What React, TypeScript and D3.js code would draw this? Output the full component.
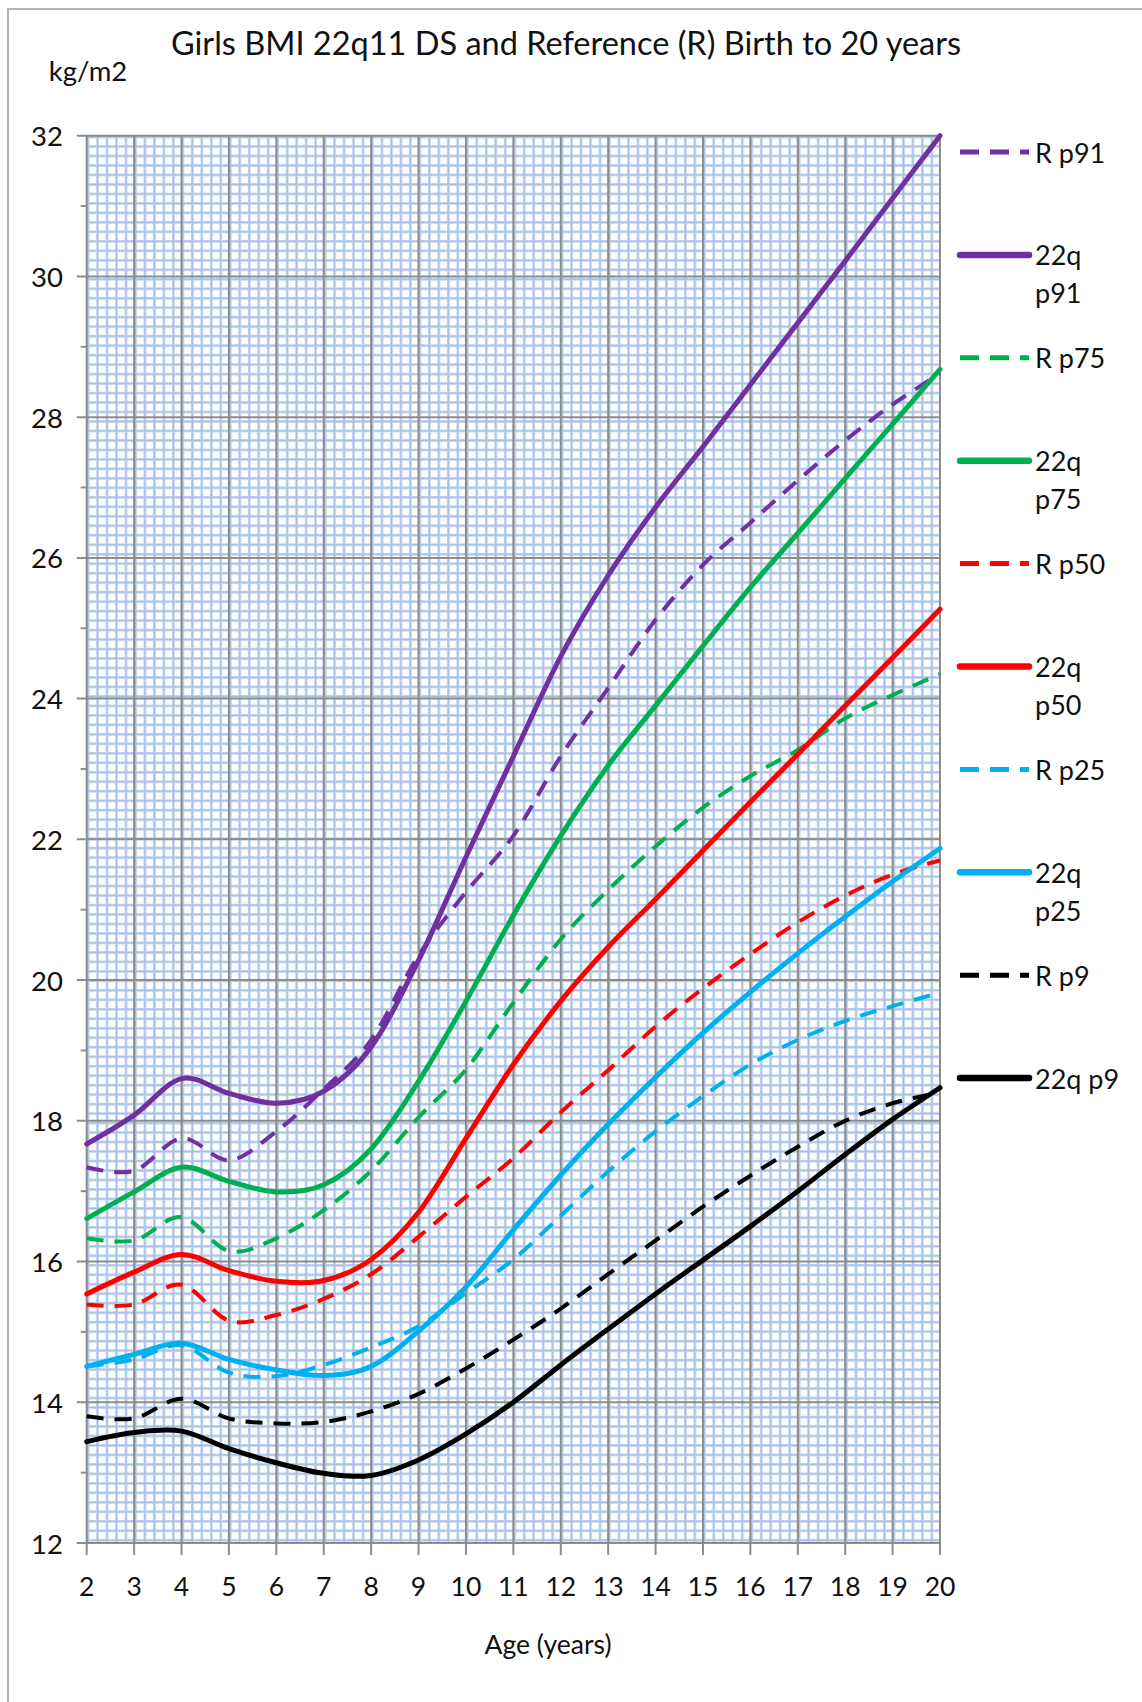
import React from 'react';
import * as d3 from 'd3';

// ---------- data ----------
const ages = [2, 3, 4, 5, 6, 7, 8, 9, 10, 11, 12, 13, 14, 15, 16, 17, 18, 19, 20];

const rP91 = [17.34, 17.29, 17.75, 17.44, 17.85, 18.45, 19.15, 20.35, 21.25, 22.05, 23.18, 24.15, 25.12, 25.9, 26.5, 27.1, 27.67, 28.18, 28.62];
const q22P91 = [17.67, 18.08, 18.6, 18.39, 18.25, 18.42, 19.05, 20.28, 21.75, 23.18, 24.6, 25.75, 26.72, 27.58, 28.46, 29.34, 30.22, 31.11, 32.0];
const rP75 = [16.33, 16.3, 16.63, 16.15, 16.33, 16.73, 17.29, 18.05, 18.73, 19.68, 20.58, 21.28, 21.9, 22.45, 22.9, 23.27, 23.72, 24.05, 24.35];
const q22P75 = [16.61, 16.99, 17.34, 17.14, 16.99, 17.09, 17.6, 18.56, 19.7, 20.92, 22.05, 23.05, 23.9, 24.75, 25.58, 26.35, 27.13, 27.9, 28.68];
const rP50 = [15.39, 15.39, 15.67, 15.16, 15.24, 15.47, 15.82, 16.35, 16.92, 17.47, 18.12, 18.72, 19.34, 19.88, 20.37, 20.82, 21.2, 21.5, 21.7];
const q22P50 = [15.54, 15.85, 16.1, 15.87, 15.72, 15.73, 16.03, 16.7, 17.75, 18.8, 19.7, 20.47, 21.15, 21.84, 22.53, 23.21, 23.9, 24.58, 25.27];
const rP25 = [14.51, 14.61, 14.81, 14.42, 14.37, 14.53, 14.78, 15.08, 15.55, 16.03, 16.65, 17.28, 17.85, 18.35, 18.8, 19.15, 19.42, 19.63, 19.82];
const q22P25 = [14.51, 14.68, 14.84, 14.61, 14.46, 14.38, 14.51, 15.01, 15.64, 16.45, 17.23, 17.95, 18.62, 19.25, 19.83, 20.38, 20.9, 21.4, 21.87];
const rP9 = [13.8, 13.77, 14.05, 13.77, 13.7, 13.72, 13.87, 14.12, 14.48, 14.89, 15.33, 15.82, 16.3, 16.78, 17.22, 17.63, 18.0, 18.25, 18.4];
const q22P9 = [13.44, 13.57, 13.59, 13.34, 13.14, 12.99, 12.96, 13.18, 13.55, 14.0, 14.53, 15.04, 15.54, 16.02, 16.5, 17.0, 17.52, 18.02, 18.47];

const seriesLabels = [['R p91'], ['22q', 'p91'], ['R p75'], ['22q', 'p75'], ['R p50'], ['22q', 'p50'], ['R p25'], ['22q', 'p25'], ['R p9'], ['22q p9']];
const yTickValues = [12, 14, 16, 18, 20, 22, 24, 26, 28, 30, 32];
const yMinorTickValues = [13, 15, 17, 19, 21, 23, 25, 27, 29, 31];
const xTickValues = ages;

const titleText = 'Girls BMI 22q11 DS and Reference (R) Birth to 20 years';
const yUnitText = 'kg/m2';
const xAxisText = 'Age (years)';

// ---------- styles ----------
const PURPLE = '#7030a0';
const GREEN = '#00b050';
const RED = '#ff0000';
const CYAN = '#00b0f0';
const BLACK = '#000000';
const FONT = 'Lato, "Open Sans", sans-serif';

export default function App() {
  const W = 1142;
  const H = 1702;
  const left = 86.7;
  const right = 940;
  const top = 135.7;
  const bottom = 1543;

  const x = d3.scaleLinear().domain([2, 20]).range([left, right]);
  const y = d3.scaleLinear().domain([12, 32]).range([bottom, top]);

  const series = [
    { values: rP91, color: PURPLE, dashed: true },
    { values: q22P91, color: PURPLE, dashed: false },
    { values: rP75, color: GREEN, dashed: true },
    { values: q22P75, color: GREEN, dashed: false },
    { values: rP50, color: RED, dashed: true },
    { values: q22P50, color: RED, dashed: false },
    { values: rP25, color: CYAN, dashed: true },
    { values: q22P25, color: CYAN, dashed: false },
    { values: rP9, color: BLACK, dashed: true },
    { values: q22P9, color: BLACK, dashed: false },
  ];

  const line = d3
    .line<number>()
    .x((_, i) => x(ages[i]))
    .y((d) => y(d))
    .curve(d3.curveCardinal.tension(0));

  const cell = x(2.2) - x(2);

  const legendX0 = 960;
  const legendX1 = 1029;
  const legendTextX = 1035;
  const legendY0 = 152;
  const legendStep = 102.9;

  return (
    <svg
      width={W}
      height={H}
      style={{ position: 'absolute', left: 0, top: 0, background: '#fff' }}
      fontFamily={FONT}
    >
      <defs>
        <pattern
          id="paper"
          patternUnits="userSpaceOnUse"
          x={left}
          y={top}
          width={cell}
          height={cell}
        >
          <rect width={cell} height={cell} fill="#fcfdff" />
          <rect x={0} y={0} width={cell} height={2.8} fill="#d3e1f3" />
          <rect x={0} y={0} width={2.8} height={cell} fill="#d3e1f3" />
          <rect x={0} y={0.5} width={cell} height={1.6} fill="#a6c0e4" />
          <rect x={0.5} y={0} width={1.6} height={cell} fill="#a6c0e4" />
        </pattern>
        <clipPath id="plotClip">
          <rect x={left - 3} y={top - 3} width={right - left + 6} height={bottom - top + 6} />
        </clipPath>
      </defs>

      {/* chart frame */}
      <rect x={8} y={9} width={W + 20} height={H + 20} fill="#fff" stroke="#b4b4b4" strokeWidth={2} />

      {/* plot background texture */}
      <rect x={left} y={top} width={right - left} height={bottom - top} fill="url(#paper)" />

      {/* major vertical gridlines */}
      {xTickValues.map((a) => (
        <line key={'vx' + a} x1={x(a)} x2={x(a)} y1={top} y2={bottom + 12} stroke="#8c8c8c" strokeWidth={2} />
      ))}
      {/* major horizontal gridlines */}
      {yTickValues.map((v) => (
        <line key={'hy' + v} x1={left - 10} x2={right} y1={y(v)} y2={y(v)} stroke="#8c8c8c" strokeWidth={2} />
      ))}
      {/* minor y ticks */}
      {yMinorTickValues.map((v) => (
        <line key={'my' + v} x1={left - 6} x2={left} y1={y(v)} y2={y(v)} stroke="#8c8c8c" strokeWidth={2} />
      ))}

      {/* series */}
      <g clipPath="url(#plotClip)">
        {series.map((s, i) => (
          <path
            key={'s' + i}
            d={line(s.values) || ''}
            fill="none"
            stroke={s.color}
            strokeWidth={s.dashed ? 4 : 5}
            strokeDasharray={s.dashed ? '17 11' : undefined}
            strokeLinecap={s.dashed ? 'butt' : 'round'}
            strokeLinejoin="round"
          />
        ))}
      </g>

      {/* y tick labels */}
      {yTickValues.map((v) => (
        <text key={'yl' + v} x={63} y={y(v)} textAnchor="end" dominantBaseline="central" fontSize={27.5} fill="#111">
          {v}
        </text>
      ))}
      {/* x tick labels */}
      {xTickValues.map((a) => (
        <text key={'xl' + a} x={x(a)} y={1586} textAnchor="middle" dominantBaseline="central" fontSize={26.5} fill="#111">
          {a}
        </text>
      ))}

      {/* title & axis labels */}
      <text x={566} y={42} textAnchor="middle" dominantBaseline="central" fontSize={32.5} fill="#111">
        {titleText}
      </text>
      <text x={88} y={70} textAnchor="middle" dominantBaseline="central" fontSize={27.5} fill="#111">
        {yUnitText}
      </text>
      <text x={548} y={1644} textAnchor="middle" dominantBaseline="central" fontSize={26.5} fill="#111">
        {xAxisText}
      </text>

      {/* legend */}
      {series.map((s, i) => {
        const ly = legendY0 + i * legendStep;
        const lines = seriesLabels[i];
        return (
          <g key={'lg' + i}>
            <line
              x1={legendX0}
              x2={legendX1}
              y1={ly}
              y2={ly}
              stroke={s.color}
              strokeWidth={s.dashed ? 5 : 6.5}
              strokeDasharray={s.dashed ? '19 11' : undefined}
              strokeLinecap={s.dashed ? 'butt' : 'round'}
            />
            {lines.map((t, j) => (
              <text
                key={j}
                x={legendTextX}
                y={ly + j * 38}
                dominantBaseline="central"
                fontSize={27}
                fill="#111"
              >
                {t}
              </text>
            ))}
          </g>
        );
      })}
    </svg>
  );
}
